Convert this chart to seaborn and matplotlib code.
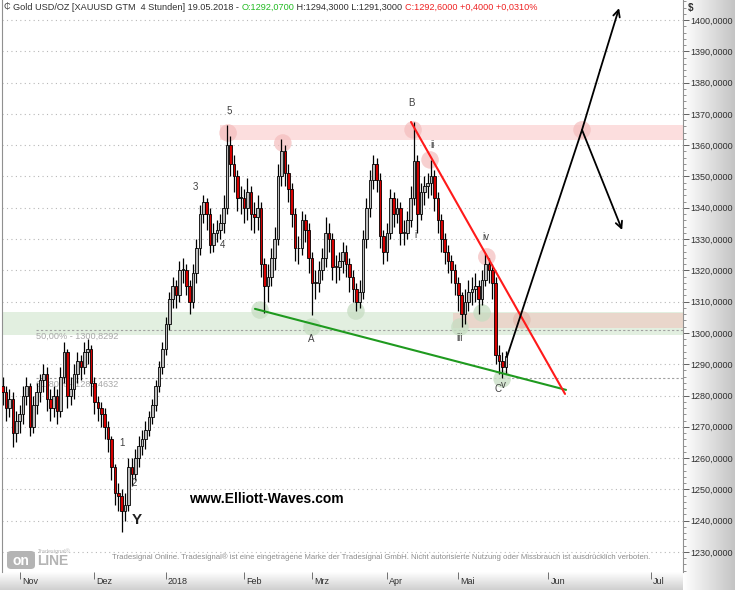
import numpy as np
import pandas as pd
import matplotlib
matplotlib.use("Agg")
import matplotlib.pyplot as plt
import seaborn as sns
from matplotlib.patches import FancyBboxPatch, Rectangle
from matplotlib.ticker import MultipleLocator

# ---------------- data (daily summary of the 4h gold chart) ----------------
first_day = -5          # trading-day index of first candle (0 = 1 Nov 2017)
first_open = 1283.0
closes = [
    1281, 1276, 1279, 1268, 1272,
    1274, 1280, 1283, 1270, 1277, 1281, 1285, 1287, 1279, 1276,
    1280, 1275, 1286, 1294, 1280, 1282, 1287, 1291, 1289, 1294,
    1295, 1284, 1278, 1276, 1274, 1270, 1266, 1257, 1249, 1248,
    1243, 1245, 1257, 1255, 1260, 1264, 1266, 1269, 1273, 1277,
    1283, 1289, 1295, 1303, 1311, 1315, 1312, 1320, 1320, 1315,
    1310, 1319, 1327, 1338, 1342, 1338, 1328, 1332, 1333, 1335,
    1340, 1360, 1354, 1350, 1343, 1343, 1340, 1345, 1338, 1337,
    1340, 1322, 1315, 1318, 1324, 1330, 1350, 1358, 1351, 1346,
    1338, 1327, 1327, 1336, 1333, 1324, 1316, 1316, 1320, 1324,
    1332, 1330, 1321, 1321, 1323, 1326, 1322, 1318, 1314, 1310,
    1313, 1330, 1340, 1349, 1354, 1349, 1331, 1326, 1332, 1343,
    1338, 1340, 1332, 1332, 1336, 1343, 1355, 1338, 1345, 1347,
    1348, 1350, 1343, 1336, 1330, 1326, 1323, 1320, 1316, 1312,
    1306, 1310, 1313, 1314, 1315, 1311, 1317, 1322, 1320, 1316,
    1293, 1291, 1289, 1292.6,
]
highs = [
    1286, 1283, 1282, 1281, 1275,
    1277, 1283, 1286, 1284, 1280, 1284, 1287, 1290, 1289, 1282,
    1283, 1282, 1289, 1297, 1295, 1286, 1290, 1294, 1293, 1297,
    1298, 1296, 1286, 1280, 1278, 1276, 1272, 1267, 1258, 1252,
    1250, 1249, 1260, 1260, 1263, 1267, 1269, 1272, 1275, 1279,
    1285, 1291, 1297, 1305, 1313, 1318, 1317, 1323, 1324, 1322,
    1317, 1322, 1330, 1341, 1344, 1343, 1340, 1335, 1336, 1338,
    1344, 1366.5, 1363, 1357, 1352, 1347, 1346, 1349.5, 1347, 1342,
    1344, 1342, 1324, 1322, 1327, 1334, 1354, 1362, 1360, 1354,
    1348, 1340, 1331, 1339, 1338, 1335, 1326, 1320, 1323, 1327,
    1337, 1335, 1332, 1325, 1326, 1329, 1328, 1324, 1320, 1316,
    1317, 1333, 1343, 1352, 1357, 1356, 1351, 1333, 1335, 1346,
    1345, 1343, 1342, 1336, 1339, 1347, 1367.4, 1357, 1348, 1350,
    1351, 1355.3, 1352, 1345, 1338, 1332, 1328, 1325, 1322, 1318,
    1313, 1314, 1317, 1318, 1319, 1317, 1320, 1325.6, 1324, 1322,
    1318, 1296, 1294, 1294.3,
]
lows = [
    1277, 1272, 1273, 1263.6, 1265,
    1268, 1271, 1277, 1267, 1268, 1274, 1278, 1281, 1275, 1272,
    1273, 1271, 1273, 1284, 1276, 1277, 1279, 1284, 1285, 1287,
    1290, 1280, 1274, 1272, 1270, 1266, 1262, 1253, 1245, 1243,
    1236.5, 1240, 1243, 1251, 1253, 1257, 1261, 1263, 1267, 1271,
    1275, 1281, 1287, 1293, 1301, 1308, 1308, 1310, 1316, 1312,
    1306, 1308, 1316, 1325, 1335, 1333, 1325.6, 1326, 1329, 1330,
    1332, 1338, 1350, 1345, 1339, 1338, 1335, 1336, 1333, 1332,
    1333, 1318, 1306.5, 1310, 1315, 1320, 1328, 1347, 1347, 1342,
    1334, 1323, 1322, 1325, 1329, 1319, 1305.8, 1311, 1313, 1317,
    1321, 1326, 1317, 1316, 1317, 1319, 1318, 1313, 1310, 1307,
    1308, 1311, 1327, 1337, 1346, 1345, 1327, 1322, 1323, 1330,
    1334, 1335, 1328, 1328, 1330, 1334, 1341, 1332, 1336, 1341,
    1343, 1344, 1339, 1332, 1326, 1322, 1319, 1316, 1312, 1307,
    1301.9, 1303, 1307, 1309, 1310, 1306, 1309, 1315, 1316, 1311,
    1290, 1287, 1285.6, 1287,
]
month_labels = ["Nov", "Dez", "2018", "Feb", "Mrz", "Apr", "Mai", "Jun", "Jul"]
month_pos = [0, 22, 43, 66, 86, 108, 129, 155.5, 185.6]
ytick_values = list(range(1230, 1401, 10))

# Elliott wave labels
wave_labels = ["5", "3", "4", "1", "2", "B", "A", "ii", "i", "iv", "iii", "C", "v"]
wave_x = [61.6, 51.6, 59.8, 30.1, 33.6, 115.1, 85.7, 121.3, 116.3, 137.1, 129.5, 140.7, 142.4]
wave_y = [1370.9, 1346.6, 1328.1, 1264.9, 1252.1, 1373.5, 1298.1, 1360.1, 1331.3, 1330.7, 1298.4, 1282.1, 1283.4]

# highlight circles
pink_cx = [61.3, 77.4, 115.7, 120.7, 137.4, 165.4]
pink_cy = [1363.9, 1360.7, 1364.9, 1355.3, 1324.3, 1364.9]
green_cx = [70.7, 86.0, 98.9, 129.5, 136.0, 141.9]
green_cy = [1307.3, 1301.9, 1307.0, 1301.9, 1306.4, 1285.3]
brown_cx = [147.7]
brown_cy = [1304.2]

# trend lines / projection
green_line_x = [69.2, 160.7]
green_line_y = [1307.7, 1281.8]
red_line_x = [115.1, 160.4]
red_line_y = [1367.4, 1280.5]
proj_x = [143.3, 147.1, 153.0, 158.9, 165.4, 170.7, 176.3]
proj_y = [1292.3, 1304.8, 1324.3, 1343.5, 1364.9, 1384.0, 1403.8]
proj2_x = [165.4, 177.2]
proj2_y = [1364.9, 1332.9]

fib_levels = [1300.8292, 1285.4632]
fib_texts = ["50,00% - 1300,8292", "61,80% - 1285,4632"]

# ---------------- build table ----------------
n = len(closes)
df = pd.DataFrame({
    "day": np.arange(first_day, first_day + n),
    "close": closes, "high": highs, "low": lows,
})
df["open"] = df["close"].shift(1).fillna(first_open)
df["up"] = df["close"] >= df["open"]

W, H = 735, 590
sns.set_theme(style="white")
plt.rcParams["font.family"] = ["Liberation Sans", "DejaVu Sans"]

fig = plt.figure(figsize=(W / 100, H / 100), dpi=100)
fig.patch.set_facecolor("white")

# gradient backgrounds for axis strips
grad = np.linspace(0, 1, 256)
axr = fig.add_axes([683 / W, 0, 52 / W, 1])
axr.imshow(np.tile(grad, (2, 1)), cmap=matplotlib.colors.LinearSegmentedColormap.from_list("g", ["#ffffff", "#c4c4c4"]),
           aspect="auto", extent=[0, 1, 0, 1])
axr.axis("off")
axb = fig.add_axes([0, 0, 683 / W, 18 / H])
axb.imshow(np.tile(grad, (2, 1)).T, cmap=matplotlib.colors.LinearSegmentedColormap.from_list("g2", ["#ffffff", "#cfcfcf"]),
           aspect="auto", extent=[0, 1, 0, 1], origin="upper")
axb.axis("off")

ax = fig.add_axes([2 / W, 1 - 572 / H, 681 / W, 572 / H])
ax.set_zorder(2)
ax.set_facecolor("white")
xmin, xmax = -5.2, 195.1
ymin, ymax = 1223.6, 1406.4
ax.set_xlim(xmin, xmax)
ax.set_ylim(ymin, ymax)

# grid
for v in ytick_values:
    ax.axhline(v, color="#b8b8b8", lw=0.8, ls=(0, (1, 3)), zorder=0)

# zones
ax.axhspan(1299.4, 1306.7, color="#e2efe0", zorder=0.5, lw=0)
ax.add_patch(Rectangle((59, 1361.7), xmax - 59, 4.8, facecolor="#fcdede", edgecolor="none", zorder=0.6))
ax.add_patch(Rectangle((127.4, 1301.6), xmax - 127.4, 4.8, facecolor="#e9d6cb", edgecolor="none", zorder=0.6))

# fib lines
for lvl, txt in zip(fib_levels, fib_texts):
    ax.plot([4.8, xmax], [lvl, lvl], color="#a0a0a0", lw=0.8, ls=(0, (2, 2)), zorder=0.7)
    ax.text(4.8, lvl - 0.4, txt, color="#a8a8a8", fontsize=6.6, va="top", ha="left", zorder=0.8)

# circles
sns.scatterplot(x=pink_cx, y=pink_cy, ax=ax, s=160, color="#f4bcbc", alpha=0.7, edgecolor="none", zorder=0.9, legend=False)
sns.scatterplot(x=green_cx, y=green_cy, ax=ax, s=160, color="#c6ddc2", alpha=0.75, edgecolor="none", zorder=0.9, legend=False)
sns.scatterplot(x=brown_cx, y=brown_cy, ax=ax, s=160, color="#e4bcb0", alpha=0.8, edgecolor="none", zorder=0.9, legend=False)

# candles
ax.vlines(df["day"], df["low"], df["high"], color="black", lw=0.9, zorder=2)
body_lo = np.minimum(df["open"], df["close"])
body_h = np.maximum(np.abs(df["close"] - df["open"]), 0.3)
colors = np.where(df["up"], "#bdbdbd", "#d40000")
ax.bar(df["day"], body_h, bottom=body_lo, width=0.78, color=colors, edgecolor="black", linewidth=0.6, zorder=3)

# trend lines
sns.lineplot(x=green_line_x, y=green_line_y, ax=ax, color="#1f9a1f", lw=1.5, zorder=4)
sns.lineplot(x=red_line_x, y=red_line_y, ax=ax, color="#ff1a1a", lw=1.5, zorder=4)
ax.plot(proj_x[:-1], proj_y[:-1], color="black", lw=1.3, zorder=4, solid_joinstyle="round")
ax.annotate("", xy=(proj_x[-1], proj_y[-1]), xytext=(proj_x[-2], proj_y[-2]),
            arrowprops=dict(arrowstyle="->", color="black", lw=1.3, mutation_scale=12,
                            shrinkA=0, shrinkB=0), zorder=4)
ax.annotate("", xy=(proj2_x[1], proj2_y[1]), xytext=(proj2_x[0], proj2_y[0]),
            arrowprops=dict(arrowstyle="->", color="black", lw=1.3, mutation_scale=12,
                            shrinkA=0, shrinkB=0), zorder=4)

# wave labels
for lab, x, y in zip(wave_labels, wave_x, wave_y):
    ax.text(x, y, lab, fontsize=7, color="#404040", ha="center", va="center", zorder=5)
ax.text(34.5, 1240.3, "Y", fontsize=11, fontweight="bold", color="#202020", ha="center", va="center", zorder=5)

# watermark
ax.text(72.7, 1246.9, "www.Elliott-Waves.com", fontsize=10, fontweight="bold", color="black",
        ha="center", va="center", zorder=5)

# axes styling
for s in ["top", "bottom"]:
    ax.spines[s].set_visible(False)
ax.spines["left"].set_color("#909090")
ax.spines["right"].set_color("#909090")
ax.spines["left"].set_linewidth(0.8)
ax.spines["right"].set_linewidth(0.8)
ax.yaxis.tick_right()
ax.set_yticks(ytick_values)
ax.set_yticklabels([f"{v},0000" for v in ytick_values], fontsize=6.5, color="#303030")
ax.yaxis.set_minor_locator(MultipleLocator(2))
ax.tick_params(axis="y", which="major", length=4, width=0.7, color="#606060", pad=1.5, right=True)
ax.tick_params(axis="y", which="minor", length=2, width=0.6, color="#808080", right=True)
ax.set_xticks(month_pos)
ax.set_xticklabels([])
ax.tick_params(axis="x", which="major", length=5, width=0.7, color="#707070", bottom=True)
for p, lab in zip(month_pos, month_labels):
    ax.annotate(lab, xy=(p, 0), xycoords=("data", "axes fraction"), xytext=(1.5, -3.5),
                textcoords="offset points", fontsize=6.5, color="#303030", ha="left", va="top",
                annotation_clip=False)

fig.text(688 / W, 1 - 8 / H, "$", fontsize=7, fontweight="bold", color="#303030", ha="left", va="center", zorder=5)

# title pieces
renderer = fig.canvas.get_renderer()
pieces = [("\u20b5 ", "#404040"), ("Gold USD/OZ [XAUUSD GTM  4 Stunden] 19.05.2018 - ", "#303030"),
          ("O:1292,0700", "#22bb22"), (" H:1294,3000 L:1291,3000 ", "#303030"),
          ("C:1292,6000 +0,4000 +0,0310%", "#ee2222")]
xcur = 4
for s, col in pieces:
    t = fig.text(xcur / W, 1 - 7 / H, s, fontsize=6.6, color=col, ha="left", va="center", zorder=10)
    bb = t.get_window_extent(renderer=renderer)
    xcur += bb.width

# footer
fig.text(112 / W, 1 - 557 / H,
         "Tradesignal Online. Tradesignal\u00ae ist eine eingetragene Marke der Tradesignal GmbH. "
         "Nicht autorisierte Nutzung oder Missbrauch ist ausdr\u00fccklich verboten.",
         fontsize=5.55, color="#8c8c8c", ha="left", va="center", zorder=10)

# logo
logo = FancyBboxPatch((7 / W, 1 - 569 / H), 28 / W, 18 / H, boxstyle="round,pad=0,rounding_size=0.006",
                      transform=fig.transFigure, facecolor="#b4b4b4", edgecolor="none", zorder=10)
fig.patches.append(logo)
fig.text(21 / W, 1 - 561 / H, "on", fontsize=10, fontweight="bold", color="white", ha="center", va="center", zorder=11)
fig.text(37 / W, 1 - 561 / H, "LINE", fontsize=10, fontweight="bold", color="#b4b4b4", ha="left", va="center", zorder=11)
fig.text(38 / W, 1 - 551 / H, "Tradesignal\u00ae", fontsize=4, color="#b4b4b4", ha="left", va="center", zorder=11)

fig.savefig("out.png", dpi=100)
